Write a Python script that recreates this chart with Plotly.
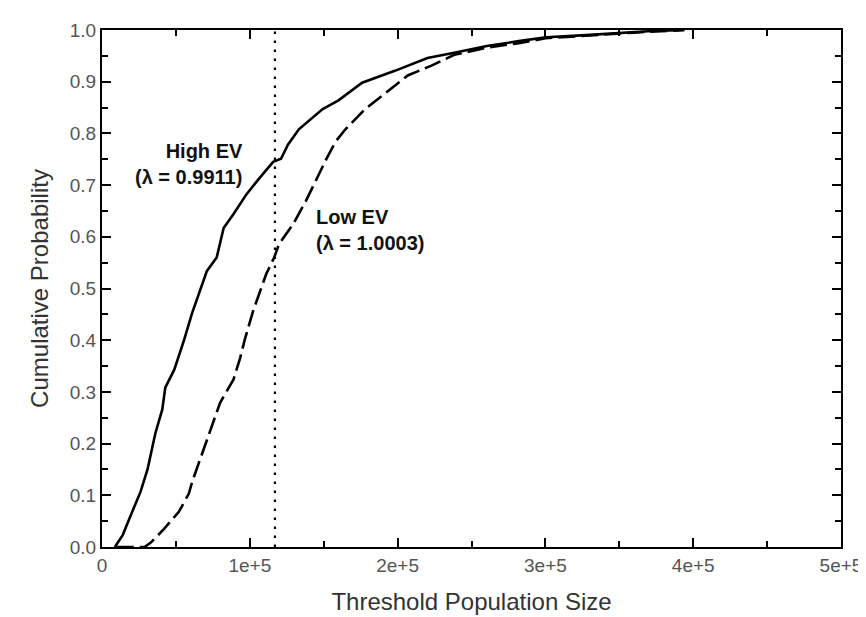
import plotly.graph_objects as go

# High EV (lambda = 0.9911) cumulative distribution (solid)
hi_x = [8700, 14000, 19400, 26100, 30800, 36100, 40800, 42800, 48900, 55500, 60900,
        71000, 77600, 82300, 89000, 97700, 106400, 115800, 121100, 125800, 133200,
        149300, 160000, 176000, 198100, 220200, 238300, 260400, 283100, 300500,
        327300, 350000, 372000, 394000]
hi_y = [0.0, 0.023, 0.061, 0.107, 0.150, 0.220, 0.266, 0.308, 0.343, 0.400, 0.452,
        0.534, 0.560, 0.617, 0.644, 0.682, 0.713, 0.745, 0.751, 0.778, 0.808,
        0.847, 0.864, 0.898, 0.921, 0.946, 0.956, 0.969, 0.979, 0.986,
        0.990, 0.994, 0.998, 1.0]

# Low EV (lambda = 1.0003) cumulative distribution (dashed)
lo_x = [10000, 28800, 32800, 42000, 52000, 58700, 61000, 66300, 73000, 79900, 89000,
        93500, 96500, 102400, 106400, 111100, 116500, 119800, 129200, 137900, 146600,
        151300, 158000, 164700, 178000, 196100, 206800, 222900, 238300, 260400,
        283100, 300000, 330000, 360000, 394000]
lo_y = [0.0, 0.0, 0.008, 0.035, 0.068, 0.103, 0.126, 0.170, 0.225, 0.279, 0.324,
        0.366, 0.400, 0.458, 0.490, 0.528, 0.560, 0.586, 0.624, 0.669, 0.720,
        0.748, 0.784, 0.808, 0.847, 0.889, 0.912, 0.931, 0.952, 0.966,
        0.975, 0.984, 0.990, 0.995, 1.0]

threshold_x = [117000, 117000]
threshold_y = [0.0, 1.0]

x_tickvals = [0, 100000, 200000, 300000, 400000, 500000]
x_ticktext = ["0", "1e+5", "2e+5", "3e+5", "4e+5", "5e+5"]
y_tickvals = [0.0, 0.1, 0.2, 0.3, 0.4, 0.5, 0.6, 0.7, 0.8, 0.9, 1.0]
y_ticktext = ["0.0", "0.1", "0.2", "0.3", "0.4", "0.5", "0.6", "0.7", "0.8", "0.9", "1.0"]

high_label = "<b>High EV</b><br><b>(λ = 0.9911)</b>"
low_label = "<b>Low EV</b><br><b>(λ = 1.0003)</b>"

FONT = "Liberation Sans, Arial, sans-serif"

fig = go.Figure()
fig.add_trace(go.Scatter(x=threshold_x, y=threshold_y, mode="lines",
                         line=dict(color="black", width=2.2, dash="2.5px,6.5px"),
                         hoverinfo="skip"))
fig.add_trace(go.Scatter(x=lo_x, y=lo_y, mode="lines",
                         line=dict(color="black", width=2.6, dash="17px,6px")))
fig.add_trace(go.Scatter(x=hi_x, y=hi_y, mode="lines",
                         line=dict(color="black", width=2.6)))

fig.add_annotation(x=96500, y=0.741, xref="x", yref="y", text=high_label,
                   showarrow=False, xanchor="right", yanchor="middle", align="right",
                   font=dict(family=FONT, size=20, color="#111"))
fig.add_annotation(x=143500, y=0.613, xref="x", yref="y", text=low_label,
                   showarrow=False, xanchor="left", yanchor="middle", align="left",
                   font=dict(family=FONT, size=20, color="#111"))

axis_common = dict(showline=True, linecolor="black", linewidth=2, mirror="allticks",
                   ticks="inside", ticklen=9, tickwidth=2, tickcolor="black",
                   showgrid=False, zeroline=False,
                   tickfont=dict(family=FONT, size=19, color="#555"))

fig.update_xaxes(range=[0, 500000], tickvals=x_tickvals, ticktext=x_ticktext,
                 minor=dict(dtick=50000, ticks="inside", ticklen=6, tickwidth=2,
                            tickcolor="black", showgrid=False),
                 title=dict(text="Threshold Population Size",
                            font=dict(family=FONT, size=24, color="#333"), standoff=18),
                 **axis_common)
fig.update_yaxes(range=[0, 1.0], tickvals=y_tickvals, ticktext=y_ticktext,
                 minor=dict(dtick=0.05, ticks="inside", ticklen=6, tickwidth=2,
                            tickcolor="black", showgrid=False),
                 title=dict(text="Cumulative Probability",
                            font=dict(family=FONT, size=24, color="#333"), standoff=14),
                 **axis_common)

fig.update_layout(width=866, height=617, showlegend=False,
                  plot_bgcolor="white", paper_bgcolor="white",
                  margin=dict(l=94, r=25, t=17, b=78))

fig.write_html("out.html")
